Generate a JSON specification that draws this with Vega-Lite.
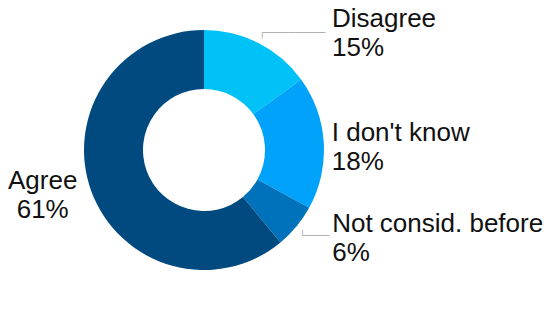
{
  "$schema": "https://vega.github.io/schema/vega-lite/v6.json",
  "width": 408,
  "height": 300,
  "autosize": {"type": "none"},
  "padding": {"left": 0, "top": 0, "right": 142, "bottom": 19},
  "background": "white",
  "config": {"view": {"stroke": null}},
  "data": {
    "values": [
      {"category": "Disagree", "pct": 15, "ord": 1, "label": "Disagree\n15%"},
      {"category": "I don't know", "pct": 18, "ord": 2, "label": "I don't know\n18%"},
      {"category": "Not consid. before", "pct": 6, "ord": 3, "label": "Not consid. before\n6%"},
      {"category": "Agree", "pct": 61, "ord": 4, "label": "Agree\n61%"}
    ]
  },
  "encoding": {
    "theta": {"field": "pct", "type": "quantitative", "stack": true},
    "order": {"field": "ord", "type": "quantitative"}
  },
  "layer": [
    {
      "mark": {"type": "arc", "radius": 120, "radius2": 61, "strokeWidth": 0},
      "encoding": {
        "color": {
          "field": "category",
          "type": "nominal",
          "scale": {
            "domain": ["Disagree", "I don't know", "Not consid. before", "Agree"],
            "range": ["#00C2F7", "#00A2FA", "#0072BC", "#004A80"]
          },
          "legend": null
        }
      }
    },
    {
      "mark": {"type": "text", "radius": 130, "align": "left", "baseline": "alphabetic", "dx": 69, "dy": -7, "fontSize": 26, "lineHeight": 29, "font": "Liberation Sans", "lineBreak": "\n", "color": "#111111"},
      "encoding": {"text": {"condition": {"test": "datum.category == 'Disagree'", "field": "label"}, "value": ""}}
    },
    {
      "mark": {"type": "text", "radius": 130, "align": "left", "baseline": "alphabetic", "dx": -2, "dy": -1, "fontSize": 26, "lineHeight": 29, "font": "Liberation Sans", "lineBreak": "\n", "color": "#111111"},
      "encoding": {"text": {"condition": {"test": "datum.category == 'I don\\'t know'", "field": "label"}, "value": ""}}
    },
    {
      "mark": {"type": "text", "radius": 130, "align": "left", "baseline": "alphabetic", "dx": 28, "dy": -1, "fontSize": 26, "lineHeight": 29, "font": "Liberation Sans", "lineBreak": "\n", "color": "#111111"},
      "encoding": {"text": {"condition": {"test": "datum.category == 'Not consid. before'", "field": "label"}, "value": ""}}
    },
    {
      "mark": {"type": "text", "radius": 130, "align": "center", "baseline": "alphabetic", "dx": -39, "dy": -5, "fontSize": 26, "lineHeight": 29, "font": "Liberation Sans", "lineBreak": "\n", "color": "#111111"},
      "encoding": {"text": {"condition": {"test": "datum.category == 'Agree'", "field": "label"}, "value": ""}}
    },
    {
      "mark": {"type": "text", "radius": 130, "align": "left", "baseline": "alphabetic", "dx": -4, "dy": 1.5, "fontSize": 10, "font": "DejaVu Sans Mono", "color": "#A8A8A8"},
      "encoding": {"text": {"condition": {"test": "datum.category == 'Disagree'", "value": "┌──────────"}, "value": ""}}
    },
    {
      "mark": {"type": "text", "radius": 130, "align": "left", "baseline": "alphabetic", "dx": -5, "dy": 6.5, "fontSize": 10, "font": "DejaVu Sans Mono", "color": "#A8A8A8"},
      "encoding": {"text": {"condition": {"test": "datum.category == 'Not consid. before'", "value": "└────"}, "value": ""}}
    }
  ]
}
